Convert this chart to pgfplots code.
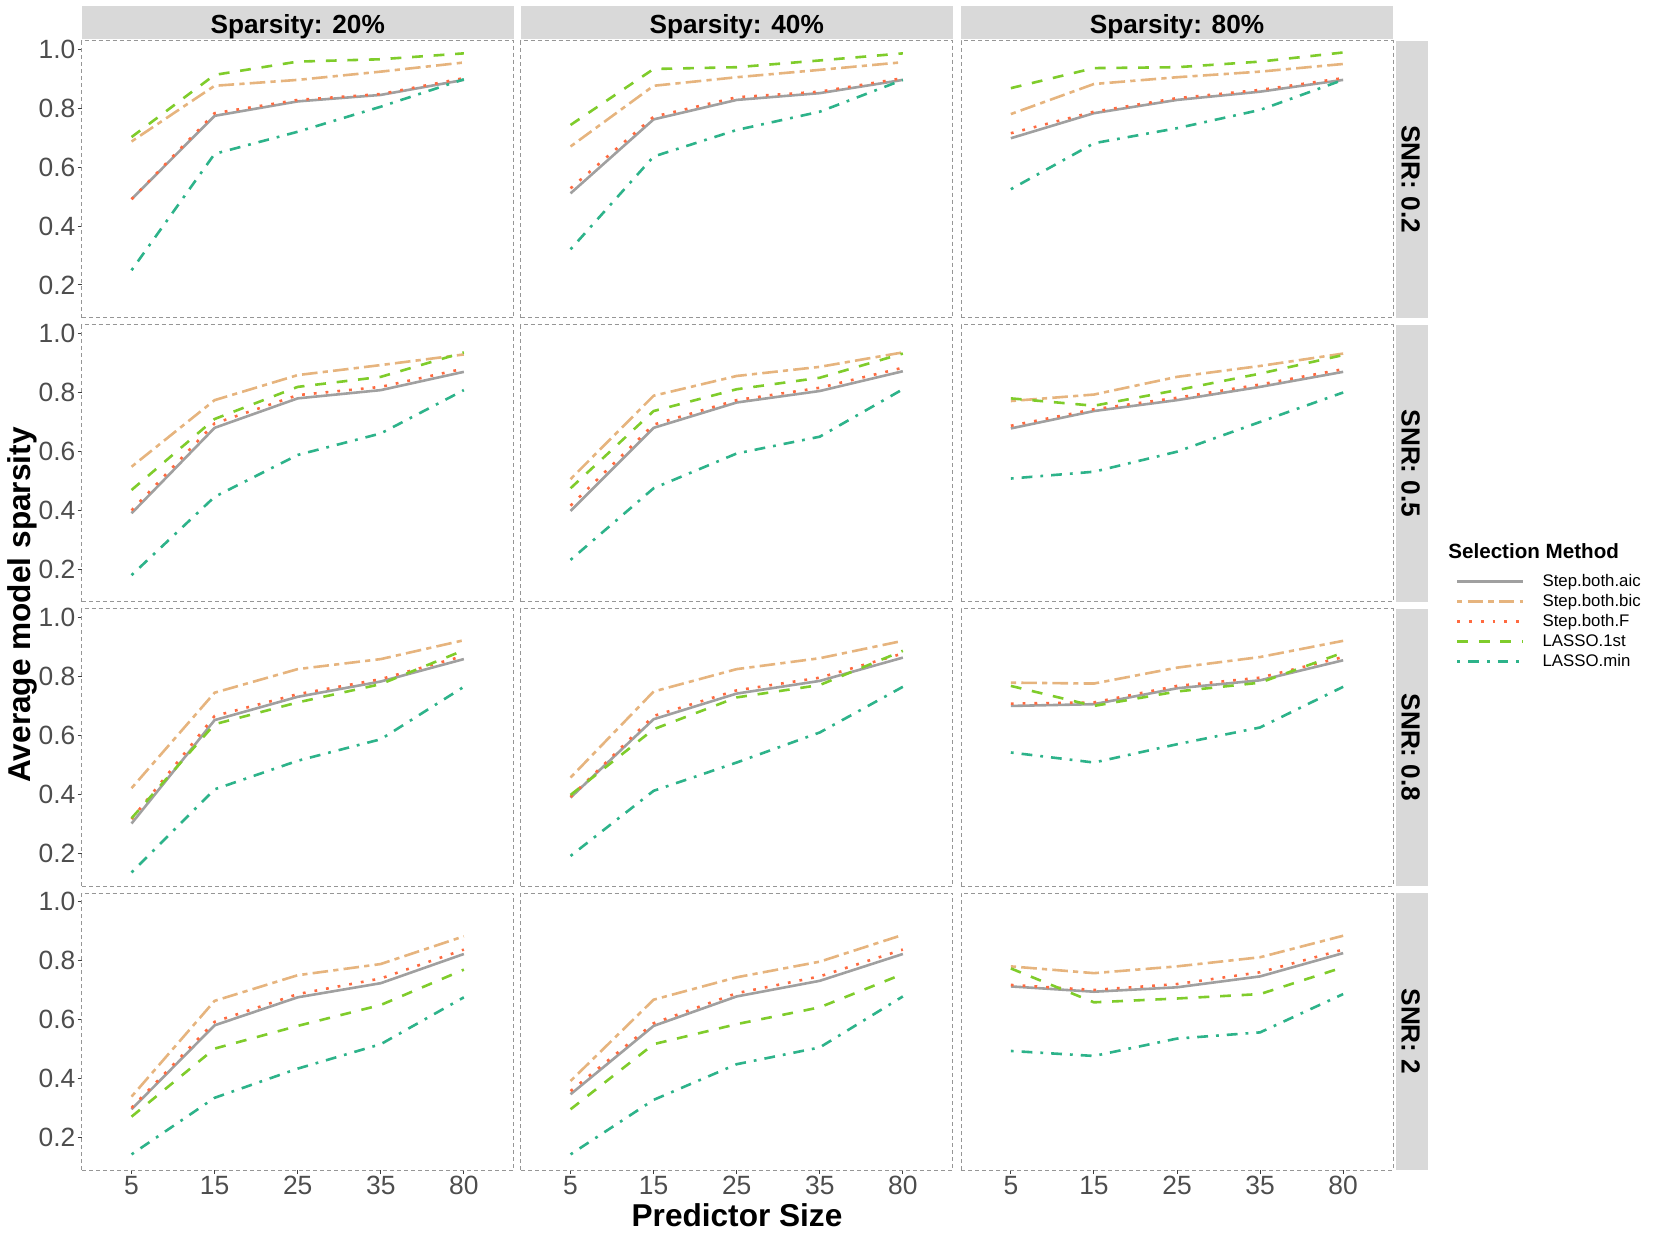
\documentclass[border=0pt]{standalone}
\usepackage{pgfplots}
\pgfplotsset{compat=1.18}
\usepackage{pgfplotstable}
\usepackage{fontspec}
\setmainfont{Liberation Sans}

\definecolor{cAic}{RGB}{160,160,160}
\definecolor{cBic}{RGB}{230,180,126}
\definecolor{cF}{RGB}{255,106,64}
\definecolor{cFirst}{RGB}{127,204,43}
\definecolor{cMin}{RGB}{45,179,138}
\definecolor{stripgray}{RGB}{217,217,217}
\definecolor{tickgray}{RGB}{77,77,77}
\definecolor{bordergray}{RGB}{150,150,150}

% columns: x index (0..4 = 5,15,25,35,80)
\pgfplotstableread{
x aic bic F first min
0 0.491 0.687 0.491 0.702 0.250
1 0.774 0.876 0.783 0.913 0.645
2 0.823 0.896 0.828 0.958 0.720
3 0.845 0.924 0.848 0.966 0.805
4 0.896 0.955 0.902 0.986 0.898
}\tAA
\pgfplotstableread{
x aic bic F first min
0 0.511 0.670 0.528 0.743 0.321
1 0.762 0.876 0.771 0.933 0.636
2 0.828 0.905 0.837 0.939 0.726
3 0.851 0.930 0.856 0.962 0.788
4 0.896 0.956 0.902 0.986 0.896
}\tAB
\pgfplotstableread{
x aic bic F first min
0 0.698 0.780 0.715 0.868 0.525
1 0.783 0.882 0.788 0.936 0.681
2 0.828 0.905 0.834 0.939 0.732
3 0.856 0.924 0.862 0.958 0.794
4 0.896 0.950 0.902 0.989 0.896
}\tAC
\pgfplotstableread{
x aic bic F first min
0 0.390 0.548 0.400 0.469 0.180
1 0.680 0.774 0.695 0.710 0.446
2 0.780 0.859 0.791 0.819 0.588
3 0.808 0.893 0.819 0.853 0.661
4 0.870 0.929 0.881 0.936 0.808
}\tBA
\pgfplotstableread{
x aic bic F first min
0 0.398 0.506 0.416 0.475 0.232
1 0.680 0.789 0.691 0.737 0.475
2 0.766 0.856 0.774 0.811 0.593
3 0.805 0.887 0.816 0.850 0.650
4 0.872 0.936 0.884 0.932 0.811
}\tBB
\pgfplotstableread{
x aic bic F first min
0 0.678 0.771 0.687 0.780 0.508
1 0.737 0.793 0.743 0.755 0.531
2 0.774 0.853 0.782 0.808 0.599
3 0.819 0.890 0.827 0.864 0.700
4 0.870 0.932 0.879 0.927 0.800
}\tBC
\pgfplotstableread{
x aic bic F first min
0 0.301 0.421 0.316 0.319 0.135
1 0.652 0.745 0.666 0.638 0.417
2 0.731 0.825 0.740 0.712 0.514
3 0.783 0.859 0.791 0.774 0.587
4 0.859 0.923 0.870 0.889 0.765
}\tCA
\pgfplotstableread{
x aic bic F first min
0 0.389 0.457 0.391 0.398 0.191
1 0.655 0.749 0.666 0.621 0.412
2 0.742 0.825 0.753 0.729 0.508
3 0.785 0.862 0.796 0.771 0.610
4 0.864 0.921 0.878 0.887 0.765
}\tCB
\pgfplotstableread{
x aic bic F first min
0 0.700 0.779 0.708 0.768 0.542
1 0.706 0.776 0.712 0.700 0.508
2 0.760 0.830 0.768 0.749 0.570
3 0.787 0.866 0.796 0.779 0.627
4 0.855 0.921 0.866 0.881 0.765
}\tCC
\pgfplotstableread{
x aic bic F first min
0 0.295 0.338 0.300 0.270 0.142
1 0.580 0.663 0.592 0.501 0.334
2 0.675 0.750 0.686 0.578 0.433
3 0.723 0.788 0.739 0.649 0.516
4 0.822 0.882 0.837 0.769 0.675
}\tDA
\pgfplotstableread{
x aic bic F first min
0 0.346 0.391 0.357 0.295 0.142
1 0.578 0.667 0.587 0.516 0.327
2 0.678 0.743 0.689 0.584 0.448
3 0.731 0.796 0.746 0.641 0.505
4 0.822 0.887 0.837 0.754 0.678
}\tDB
\pgfplotstableread{
x aic bic F first min
0 0.712 0.780 0.717 0.773 0.493
1 0.694 0.757 0.700 0.658 0.476
2 0.709 0.780 0.720 0.671 0.535
3 0.746 0.811 0.760 0.686 0.556
4 0.825 0.884 0.837 0.777 0.686
}\tDC

\pgfplotsset{
  facet/.style={
    scale only axis, width=216pt, height=138.5pt, anchor=north west,
    xmin=-0.6, xmax=4.6, ymin=0.089, ymax=1.029,
    axis line style={draw=bordergray, dash pattern=on 2pt off 1.5pt, line width=0.5pt},
    tick align=outside, major tick length=2pt,
    major tick style={draw=black!75, line width=0.5pt, solid},
    tick label style={font=\fontsize{13.2}{15}\selectfont, text=tickgray, inner sep=1pt},
  },
  ylab/.style={ytick={0.2,0.4,0.6,0.8,1.0}, yticklabels={0.2,0.4,0.6,0.8,1.0}, ytick pos=left},
  noy/.style={ytick=\empty},
  xlab/.style={xtick={0,1,2,3,4}, xticklabels={5,15,25,35,80}, xtick pos=left},
  nox/.style={xtick=\empty},
  sAic/.style={cAic, line width=1.3pt, solid},
  sBic/.style={cBic, line width=1.3pt, dash pattern=on 2.6pt off 2.6pt on 7.8pt off 2.6pt},
  sF/.style={cF, line width=1.3pt, dash pattern=on 1.4pt off 4.5pt},
  sFirst/.style={cFirst, line width=1.3pt, dash pattern=on 5.4pt off 5.4pt},
  sMin/.style={cMin, line width=1.3pt, dash pattern=on 1.4pt off 4pt on 5.4pt off 4pt},
  myleg/.style={
    legend entries={Step.both.aic,Step.both.bic,Step.both.F,LASSO.1st,LASSO.min},
    legend cell align=left,
    legend image code/.code={\draw[##1] (0pt,0pt) -- (33pt,0pt);},
    legend style={at={(1.1458,0.1036)}, anchor=north west, draw=none, fill=none,
      inner sep=0pt, outer sep=0pt, font=\fontsize{8.4}{9}\selectfont,
      row sep=2.0pt, column sep=9pt, nodes={inner sep=0pt},
      /tikz/every even column/.append style={text height=6.5pt, text depth=1.8pt}},
  },
}

\newcommand{\panel}[4]{%
\begin{axis}[facet, at={(#1,#2)}, #4]
\addplot[sAic] table[x=x,y=aic]{#3};
\addplot[sBic] table[x=x,y=bic]{#3};
\addplot[sF] table[x=x,y=F]{#3};
\addplot[sFirst] table[x=x,y=first]{#3};
\addplot[sMin] table[x=x,y=min]{#3};
\end{axis}}

\begin{document}
\begin{tikzpicture}
\useasboundingbox (0,0) rectangle (827pt,-620pt);

% top strips
\foreach \cx in {40.85,260.35,480.5}{
  \fill[stripgray] (\cx pt,-3pt) rectangle (\cx pt+216pt,-19.65pt);
}
\node[anchor=base, font=\bfseries\fontsize{13.1}{15}\selectfont] at (148.85pt,-16.65pt) {Sparsity: 20\%};
\node[anchor=base, font=\bfseries\fontsize{13.1}{15}\selectfont] at (368.35pt,-16.65pt) {Sparsity: 40\%};
\node[anchor=base, font=\bfseries\fontsize{13.1}{15}\selectfont] at (588.5pt,-16.65pt) {Sparsity: 80\%};

% right strips
\foreach \ry/\lab in {20.35/0.2,162.5/0.5,304.5/0.8,446.5/2}{
  \fill[stripgray] (698pt,-\ry pt) rectangle (714.15pt,-\ry pt-138.5pt);
  \node[anchor=base, rotate=-90, font=\bfseries\fontsize{13.1}{15}\selectfont] at (700.8pt,-\ry pt-69.25pt) {SNR: \lab};
}

% panels
\panel{40.85pt}{-20.35pt}{\tAA}{ylab,nox}
\panel{260.35pt}{-20.35pt}{\tAB}{noy,nox}
\panel{480.5pt}{-20.35pt}{\tAC}{noy,nox}

\panel{40.85pt}{-162.5pt}{\tBA}{ylab,nox}
\panel{260.35pt}{-162.5pt}{\tBB}{noy,nox}
\panel{480.5pt}{-162.5pt}{\tBC}{noy,nox,myleg}

\panel{40.85pt}{-304.5pt}{\tCA}{ylab,nox}
\panel{260.35pt}{-304.5pt}{\tCB}{noy,nox}
\panel{480.5pt}{-304.5pt}{\tCC}{noy,nox}

\panel{40.85pt}{-446.5pt}{\tDA}{ylab,xlab}
\panel{260.35pt}{-446.5pt}{\tDB}{noy,xlab}
\panel{480.5pt}{-446.5pt}{\tDC}{noy,xlab}

% axis titles
\node[rotate=90, font=\bfseries\fontsize{15.8}{18}\selectfont] at (11pt,-302.5pt) {Average model sparsity};
\node[anchor=base, font=\bfseries\fontsize{15.8}{18}\selectfont] at (368.5pt,-613.4pt) {Predictor Size};

% legend title
\node[anchor=west, inner sep=0pt, font=\bfseries\fontsize{10.3}{12}\selectfont] at (724pt,-275.8pt) {Selection Method};
\end{tikzpicture}
\end{document}
